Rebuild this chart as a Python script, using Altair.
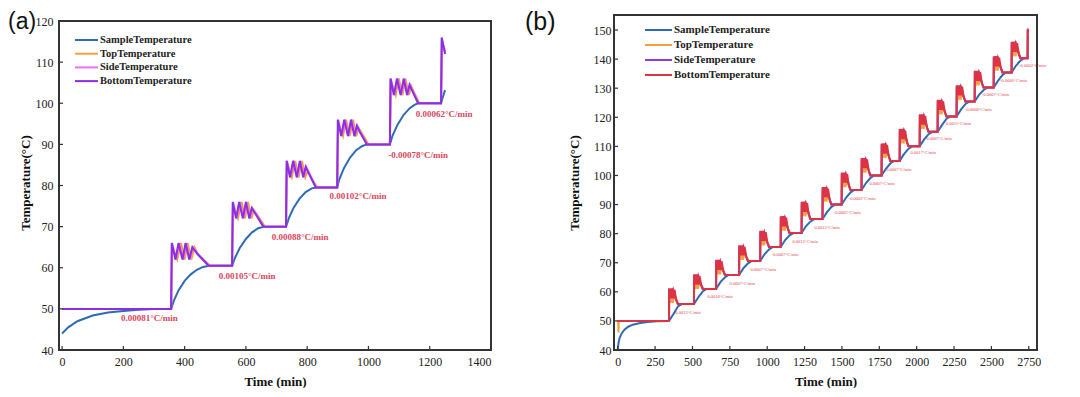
import altair as alt
import pandas as pd

SERIES = ["SampleTemperature", "TopTemperature", "SideTemperature", "BottomTemperature"]

# ---------------- Panel (a) ----------------
a_sample = [
    [0, 44], [20, 45.5], [50, 47], [100, 48.4], [150, 49.1], [200, 49.5], [250, 49.8], [300, 49.95], [356, 50],
    [365, 52], [380, 54.5], [400, 56.8], [420, 58.4], [440, 59.5], [460, 60.2], [480, 60.5], [555, 60.5],
    [565, 62.5], [580, 64.8], [600, 67], [620, 68.6], [640, 69.6], [660, 70], [731, 70],
    [740, 72], [755, 74.5], [775, 76.8], [795, 78.4], [815, 79.3], [830, 79.5], [898, 79.5],
    [905, 81.5], [920, 84.2], [940, 86.8], [960, 88.6], [980, 89.6], [995, 90], [1070, 90],
    [1078, 92], [1095, 94.8], [1115, 97.2], [1135, 98.8], [1150, 99.6], [1162, 100], [1237, 100],
    [1243, 101.5], [1250, 103.2],
]
a_top = [
    [0, 50], [356, 50], [359, 65.5], [376, 62], [388, 66], [400, 62], [410, 66], [422, 62], [432, 65], [446, 63], [484, 60.5], [555, 60.5],
    [558, 75.5], [574, 72], [586, 76], [597, 72], [607, 76], [618, 72], [626, 74], [640, 72.5], [662, 70], [731, 70],
    [734, 85.5], [750, 82], [761, 86], [772, 82], [783, 86], [794, 82], [801, 83.5], [812, 82], [833, 79.5], [898, 79.5],
    [901, 95.5], [917, 92], [927, 96], [939, 92], [950, 96], [960, 92], [968, 94], [980, 92.5], [1000, 90], [1070, 90],
    [1073, 105.5], [1089, 102], [1099, 106], [1111, 102], [1121, 106], [1132, 102], [1140, 104], [1150, 102.5], [1166, 100], [1237, 100],
    [1240, 115], [1251, 112.5],
]
a_side = [
    [0, 50], [356, 50], [359, 66], [372, 62], [382, 66], [395, 62], [405, 66], [417, 62], [427, 65], [442, 63.5], [479, 60.5], [555, 60.5],
    [558, 76], [570, 72], [580, 76], [592, 72], [602, 76], [613, 72], [621, 74.5], [634, 73], [658, 70], [731, 70],
    [734, 86], [746, 82], [756, 86], [768, 82], [778, 86], [789, 82], [797, 84.5], [807, 83], [829, 79.5], [898, 79.5],
    [901, 96], [913, 92], [923, 96], [935, 92], [945, 96], [956, 92], [964, 94.5], [974, 93], [996, 90], [1070, 90],
    [1073, 106], [1085, 102], [1095, 106], [1107, 102], [1117, 106], [1128, 102], [1136, 104.5], [1145, 103], [1163, 100], [1237, 100],
    [1240, 115.5], [1251, 112],
]
a_bottom = [
    [0, 50], [356, 50], [358, 66], [370, 62], [380, 66], [393, 62], [403, 66], [415, 62], [425, 65], [440, 63.5], [478, 60.5], [555, 60.5],
    [557, 76], [568, 72], [578, 76], [590, 72], [600, 76], [611, 72], [619, 74.5], [632, 73], [657, 70], [731, 70],
    [733, 86], [744, 82], [754, 86], [766, 82], [776, 86], [787, 82], [795, 84.5], [805, 83], [828, 79.5], [898, 79.5],
    [900, 96], [911, 92], [921, 96], [933, 92], [943, 96], [954, 92], [962, 94.5], [972, 93], [995, 90], [1070, 90],
    [1072, 106], [1083, 102], [1093, 106], [1105, 102], [1115, 106], [1126, 102], [1134, 104.5], [1143, 103], [1162, 100], [1237, 100],
    [1239, 116], [1250, 112],
]
a_rate_t = [285, 604, 777, 966, 1162, 1247]
a_rate_T = [47.7, 58.0, 67.4, 77.4, 87.4, 97.4]
a_rate_txt = ["0.00081°C/min", "0.00105°C/min", "0.00088°C/min", "0.00102°C/min", "-0.00078°C/min", "0.00062°C/min"]
a_xticks = [0, 200, 400, 600, 800, 1000, 1200, 1400]
a_yticks = [40, 50, 60, 70, 80, 90, 100, 110, 120]

# ---------------- Panel (b) ----------------
b_sample = [
    [0, 39.8], [4, 42], [12, 44], [25, 45.6], [45, 47], [70, 48], [100, 48.7], [150, 49.3], [200, 49.6], [260, 49.85], [343, 50],
    [373, 52.4], [403, 55], [428, 55.8],
    [510, 55.8], [540, 58.2], [570, 60.2], [595, 61],
    [658, 61], [688, 63.4], [718, 65], [743, 65.8],
    [812, 65.8], [842, 68.2], [872, 69.8], [897, 70.6],
    [953, 70.6], [983, 73], [1013, 74.6], [1038, 75.4],
    [1090, 75.4], [1120, 77.8], [1150, 79.4], [1175, 80.2],
    [1230, 80.2], [1260, 82.6], [1290, 84.2], [1315, 85],
    [1370, 85], [1400, 87.4], [1430, 89.2], [1455, 90],
    [1498, 90], [1528, 92.4], [1558, 94.2], [1583, 95],
    [1631, 95], [1661, 97.4], [1691, 99.2], [1716, 100],
    [1765, 100], [1795, 102.4], [1825, 104.2], [1850, 105],
    [1886, 105], [1916, 107.4], [1946, 109.2], [1971, 110],
    [2020, 110], [2050, 112.4], [2080, 114.2], [2105, 115],
    [2140, 115], [2170, 117.4], [2200, 119.5], [2225, 120.3],
    [2267, 120.3], [2297, 122.7], [2327, 124.6], [2352, 125.4],
    [2388, 125.4], [2418, 127.8], [2448, 129.4], [2473, 130.2],
    [2515, 130.2], [2545, 132.6], [2575, 134.6], [2600, 135.4],
    [2635, 135.4], [2665, 137.8], [2695, 139.5], [2720, 140.3],
    [2745, 140.6],
]
b_top = [
    [0, 50], [3, 50], [5, 46], [7, 50],
    [343, 50], [345, 60.2], [353, 56.2], [361, 59.7], [369, 56.2], [379, 58.7], [395, 56.8], [407, 55.8],
    [510, 55.8], [512, 65], [520, 61], [528, 64.5], [536, 61], [546, 63.5], [562, 62], [574, 61],
    [658, 61], [660, 70], [668, 66], [676, 69.5], [684, 66], [694, 68.5], [710, 66.8], [722, 65.8],
    [812, 65.8], [814, 75], [822, 71], [830, 74.5], [838, 71], [848, 73.5], [864, 71.6], [876, 70.6],
    [953, 70.6], [955, 80], [963, 76], [971, 79.5], [979, 76], [989, 78.5], [1005, 76.4], [1017, 75.4],
    [1090, 75.4], [1092, 85], [1100, 81], [1108, 84.5], [1116, 81], [1126, 83.5], [1142, 81.2], [1154, 80.2],
    [1230, 80.2], [1232, 90], [1240, 86], [1248, 89.5], [1256, 86], [1266, 88.5], [1282, 86], [1294, 85],
    [1370, 85], [1372, 95], [1380, 91], [1388, 94.5], [1396, 91], [1406, 93.5], [1422, 91], [1434, 90],
    [1498, 90], [1500, 100], [1508, 96], [1516, 99.5], [1524, 96], [1534, 98.5], [1550, 96], [1562, 95],
    [1631, 95], [1633, 105], [1641, 101], [1649, 104.5], [1657, 101], [1667, 103.5], [1683, 101], [1695, 100],
    [1765, 100], [1767, 110], [1775, 106], [1783, 109.5], [1791, 106], [1801, 108.5], [1817, 106], [1829, 105],
    [1886, 105], [1888, 115], [1896, 111], [1904, 114.5], [1912, 111], [1922, 113.5], [1938, 111], [1950, 110],
    [2020, 110], [2022, 120], [2030, 116], [2038, 119.5], [2046, 116], [2056, 118.5], [2072, 116], [2084, 115],
    [2140, 115], [2142, 125], [2150, 121], [2158, 124.5], [2166, 121], [2176, 123.5], [2192, 121.3], [2204, 120.3],
    [2267, 120.3], [2269, 130], [2277, 126], [2285, 129.5], [2293, 126], [2303, 128.5], [2319, 126.4], [2331, 125.4],
    [2388, 125.4], [2390, 135], [2398, 131], [2406, 134.5], [2414, 131], [2424, 133.5], [2440, 131.2], [2452, 130.2],
    [2515, 130.2], [2517, 140], [2525, 136], [2533, 139.5], [2541, 136], [2551, 138.5], [2567, 136.4], [2579, 135.4],
    [2635, 135.4], [2637, 145], [2645, 141], [2653, 144.5], [2661, 141], [2671, 143.5], [2687, 141.3], [2699, 140.3],
    [2742, 140.3], [2744, 148], [2746, 147],
]
b_side = [
    [0, 50],
    [343, 50], [344, 60.9], [357, 58], [371, 60.7], [385, 58.2], [401, 55.8],
    [510, 55.8], [511, 65.7], [524, 62.8], [538, 65.5], [552, 63], [568, 61],
    [658, 61], [659, 70.7], [672, 67.8], [686, 70.5], [700, 68], [716, 65.8],
    [812, 65.8], [813, 75.7], [826, 72.8], [840, 75.5], [854, 73], [870, 70.6],
    [953, 70.6], [954, 80.7], [967, 77.8], [981, 80.5], [995, 78], [1011, 75.4],
    [1090, 75.4], [1091, 85.7], [1104, 82.8], [1118, 85.5], [1132, 83], [1148, 80.2],
    [1230, 80.2], [1231, 90.7], [1244, 87.8], [1258, 90.5], [1272, 88], [1288, 85],
    [1370, 85], [1371, 95.7], [1384, 92.8], [1398, 95.5], [1412, 93], [1428, 90],
    [1498, 90], [1499, 100.7], [1512, 97.8], [1526, 100.5], [1540, 98], [1556, 95],
    [1631, 95], [1632, 105.7], [1645, 102.8], [1659, 105.5], [1673, 103], [1689, 100],
    [1765, 100], [1766, 110.7], [1779, 107.8], [1793, 110.5], [1807, 108], [1823, 105],
    [1886, 105], [1887, 115.7], [1900, 112.8], [1914, 115.5], [1928, 113], [1944, 110],
    [2020, 110], [2021, 120.7], [2034, 117.8], [2048, 120.5], [2062, 118], [2078, 115],
    [2140, 115], [2141, 125.7], [2154, 122.8], [2168, 125.5], [2182, 123], [2198, 120.3],
    [2267, 120.3], [2268, 130.7], [2281, 127.8], [2295, 130.5], [2309, 128], [2325, 125.4],
    [2388, 125.4], [2389, 135.7], [2402, 132.8], [2416, 135.5], [2430, 133], [2446, 130.2],
    [2515, 130.2], [2516, 140.7], [2529, 137.8], [2543, 140.5], [2557, 138], [2573, 135.4],
    [2635, 135.4], [2636, 145.7], [2649, 142.8], [2663, 145.5], [2677, 143], [2693, 140.3],
    [2742, 140.3], [2743, 150], [2745, 149.5],
]
b_bottom = [
    [0, 50],
    [343, 50], [344, 61.2], [350, 57.7], [356, 61.2], [362, 57.7], [368, 61.2], [374, 57.7], [380, 60.7], [391, 57.3], [403, 55.8],
    [510, 55.8], [511, 66], [517, 62.5], [523, 66], [529, 62.5], [535, 66], [541, 62.5], [547, 65.5], [558, 62.5], [570, 61],
    [658, 61], [659, 71], [665, 67.5], [671, 71], [677, 67.5], [683, 71], [689, 67.5], [695, 70.5], [706, 67.3], [718, 65.8],
    [812, 65.8], [813, 76], [819, 72.5], [825, 76], [831, 72.5], [837, 76], [843, 72.5], [849, 75.5], [860, 72.1], [872, 70.6],
    [953, 70.6], [954, 81], [960, 77.5], [966, 81], [972, 77.5], [978, 81], [984, 77.5], [990, 80.5], [1001, 76.9], [1013, 75.4],
    [1090, 75.4], [1091, 86], [1097, 82.5], [1103, 86], [1109, 82.5], [1115, 86], [1121, 82.5], [1127, 85.5], [1138, 81.7], [1150, 80.2],
    [1230, 80.2], [1231, 91], [1237, 87.5], [1243, 91], [1249, 87.5], [1255, 91], [1261, 87.5], [1267, 90.5], [1278, 86.5], [1290, 85],
    [1370, 85], [1371, 96], [1377, 92.5], [1383, 96], [1389, 92.5], [1395, 96], [1401, 92.5], [1407, 95.5], [1418, 91.5], [1430, 90],
    [1498, 90], [1499, 101], [1505, 97.5], [1511, 101], [1517, 97.5], [1523, 101], [1529, 97.5], [1535, 100.5], [1546, 96.5], [1558, 95],
    [1631, 95], [1632, 106], [1638, 102.5], [1644, 106], [1650, 102.5], [1656, 106], [1662, 102.5], [1668, 105.5], [1679, 101.5], [1691, 100],
    [1765, 100], [1766, 111], [1772, 107.5], [1778, 111], [1784, 107.5], [1790, 111], [1796, 107.5], [1802, 110.5], [1813, 106.5], [1825, 105],
    [1886, 105], [1887, 116], [1893, 112.5], [1899, 116], [1905, 112.5], [1911, 116], [1917, 112.5], [1923, 115.5], [1934, 111.5], [1946, 110],
    [2020, 110], [2021, 121], [2027, 117.5], [2033, 121], [2039, 117.5], [2045, 121], [2051, 117.5], [2057, 120.5], [2068, 116.5], [2080, 115],
    [2140, 115], [2141, 126], [2147, 122.5], [2153, 126], [2159, 122.5], [2165, 126], [2171, 122.5], [2177, 125.5], [2188, 121.8], [2200, 120.3],
    [2267, 120.3], [2268, 131], [2274, 127.5], [2280, 131], [2286, 127.5], [2292, 131], [2298, 127.5], [2304, 130.5], [2315, 126.9], [2327, 125.4],
    [2388, 125.4], [2389, 136], [2395, 132.5], [2401, 136], [2407, 132.5], [2413, 136], [2419, 132.5], [2425, 135.5], [2436, 131.7], [2448, 130.2],
    [2515, 130.2], [2516, 141], [2522, 137.5], [2528, 141], [2534, 137.5], [2540, 141], [2546, 137.5], [2552, 140.5], [2563, 136.9], [2575, 135.4],
    [2635, 135.4], [2636, 146], [2642, 142.5], [2648, 146], [2654, 142.5], [2660, 146], [2666, 142.5], [2672, 145.5], [2683, 141.8], [2695, 140.3],
    [2742, 140.3], [2743, 150.5], [2745, 149],
]
b_rate_t = [470, 685, 833, 973, 1120, 1254, 1401, 1535, 1635, 1769, 1876, 2044, 2145, 2279, 2413, 2527, 2648, 2775]
b_rate_T = [52.7, 58.2, 62.7, 67.5, 72.7, 77.1, 81.9, 87.1, 91.9, 97.0, 101.9, 107.7, 112.5, 117.7, 122.5, 127.7, 132.5, 137.7]
b_rate_txt = ["0.0013°C/min", "0.0010°C/min", "0.0007°C/min", "0.0007°C/min", "-0.0007°C/min", "0.0013°C/min",
              "0.0013°C/min", "-0.0002°C/min", "-0.0002°C/min", "0.0007°C/min", "-0.0007°C/min", "0.0017°C/min",
              "-0.0007°C/min", "0.0011°C/min", "-0.0008°C/min", "-0.0007°C/min", "-0.0006°C/min", "-0.0002°C/min"]
b_xticks = [0, 250, 500, 750, 1000, 1250, 1500, 1750, 2000, 2250, 2500, 2750]
b_yticks = [40, 50, 60, 70, 80, 90, 100, 110, 120, 130, 140, 150]

SERIF = "Liberation Serif"


def pts(pairs):
    return pd.DataFrame({"t": [p[0] for p in pairs], "T": [p[1] for p in pairs], "i": list(range(len(pairs)))})


def panel(series, colors, xdom, ydom, W, H, frame_top, xticks, yticks,
          rate_t, rate_T, rate_txt, rate_size, rate_weight, rate_color,
          leg, tag, tag_x, tag_size, ylab_pad, ytitle_pad):
    xs = alt.Scale(domain=xdom, nice=False, zero=False)
    ys = alt.Scale(domain=ydom, nice=False, zero=False)
    X = alt.X("t:Q", scale=xs, axis=alt.Axis(values=xticks, format="d", title="Time (min)",
                                             labelPadding=6, titlePadding=8))
    Y = alt.Y("T:Q", scale=ys, axis=alt.Axis(values=yticks, format="d", title="Temperature(°C)",
                                             labelPadding=ylab_pad, titlePadding=ytitle_pad))
    layers = []
    for pairs, c in zip(series, colors):
        layers.append(alt.Chart(pts(pairs)).mark_line(color=c, strokeWidth=2, clip=True)
                      .encode(x=X, y=Y, order="i:Q"))
    layers.append(alt.Chart(pd.DataFrame({"t": xticks})).mark_rule(color="#333", strokeWidth=1.2)
                  .encode(x=X, y=alt.value(H), y2=alt.value(H - 4)))
    layers.append(alt.Chart(pd.DataFrame({"T": yticks})).mark_rule(color="#333", strokeWidth=1.2)
                  .encode(y=Y, x=alt.value(0), x2=alt.value(4)))
    layers.append(alt.Chart(pd.DataFrame({"t": rate_t, "T": rate_T, "txt": rate_txt}))
                  .mark_text(font=SERIF, fontSize=rate_size, fontWeight=rate_weight, color=rate_color,
                             align="center", baseline="middle")
                  .encode(x=X, y=Y, text="txt:N"))
    layers.append(alt.Chart(pd.DataFrame({"s": [0]}))
                  .mark_rect(fillOpacity=0, stroke="#333", strokeWidth=2)
                  .encode(x=alt.value(0), x2=alt.value(W), y=alt.value(frame_top), y2=alt.value(H)))
    lx0, lx1, tx, ly0, dy, lsize = leg
    for k, (name, c) in enumerate(zip(SERIES, colors)):
        d = pd.DataFrame({"name": [name]})
        layers.append(alt.Chart(d).mark_rule(color=c, strokeWidth=2)
                      .encode(x=alt.value(lx0), x2=alt.value(lx1), y=alt.value(ly0 + k * dy)))
        layers.append(alt.Chart(d).mark_text(font=SERIF, fontSize=lsize, fontWeight="bold", color="#222",
                                             align="left", baseline="middle")
                      .encode(x=alt.value(tx), y=alt.value(ly0 + k * dy), text="name:N"))
    layers.append(alt.Chart(pd.DataFrame({"s": [tag]}))
                  .mark_text(font="Liberation Sans", fontSize=tag_size, color="#111", align="left", baseline="middle")
                  .encode(x=alt.value(tag_x), y=alt.value(7), text="s:N"))
    return alt.layer(*layers).properties(width=W, height=H)


pa = panel([a_sample, a_top, a_side, a_bottom],
           ["#2e6bb4", "#f4a03c", "#f26ff2", "#8a2fe3"],
           [-10, 1400], [40, 121.46], 432, 335, 6, a_xticks, a_yticks,
           a_rate_t, a_rate_T, a_rate_txt, 9, "bold", "#d8465c",
           (16, 39, 41, 25, 13.7, 10.5), "(a)", -51, 23, 6, 3)

pb = panel([b_sample, b_top, b_side, b_bottom],
           ["#2e6bb4", "#f4a03c", "#8a3be3", "#dc3445"],
           [-25, 2805], [40, 155.16], 423, 335, 0, b_xticks, b_yticks,
           b_rate_t, b_rate_T, b_rate_txt, 4.5, "normal", "#e8444f",
           (31, 58, 60, 15, 15, 11), "(b)", -89, 25, 3, 12)

chart = (alt.hconcat(pa, pb, spacing=123, bounds="flush")
         .properties(padding={"top": 2, "left": 0, "right": 0, "bottom": 0}, background="white")
         .configure_view(strokeWidth=0)
         .configure_axis(grid=False, ticks=False, domain=False,
                         labelFont=SERIF, labelFontSize=12, labelColor="#222",
                         titleFont=SERIF, titleFontSize=13, titleFontWeight="bold", titleColor="#111"))

chart.save("out.html", embed_options={"renderer": "svg", "actions": False})
